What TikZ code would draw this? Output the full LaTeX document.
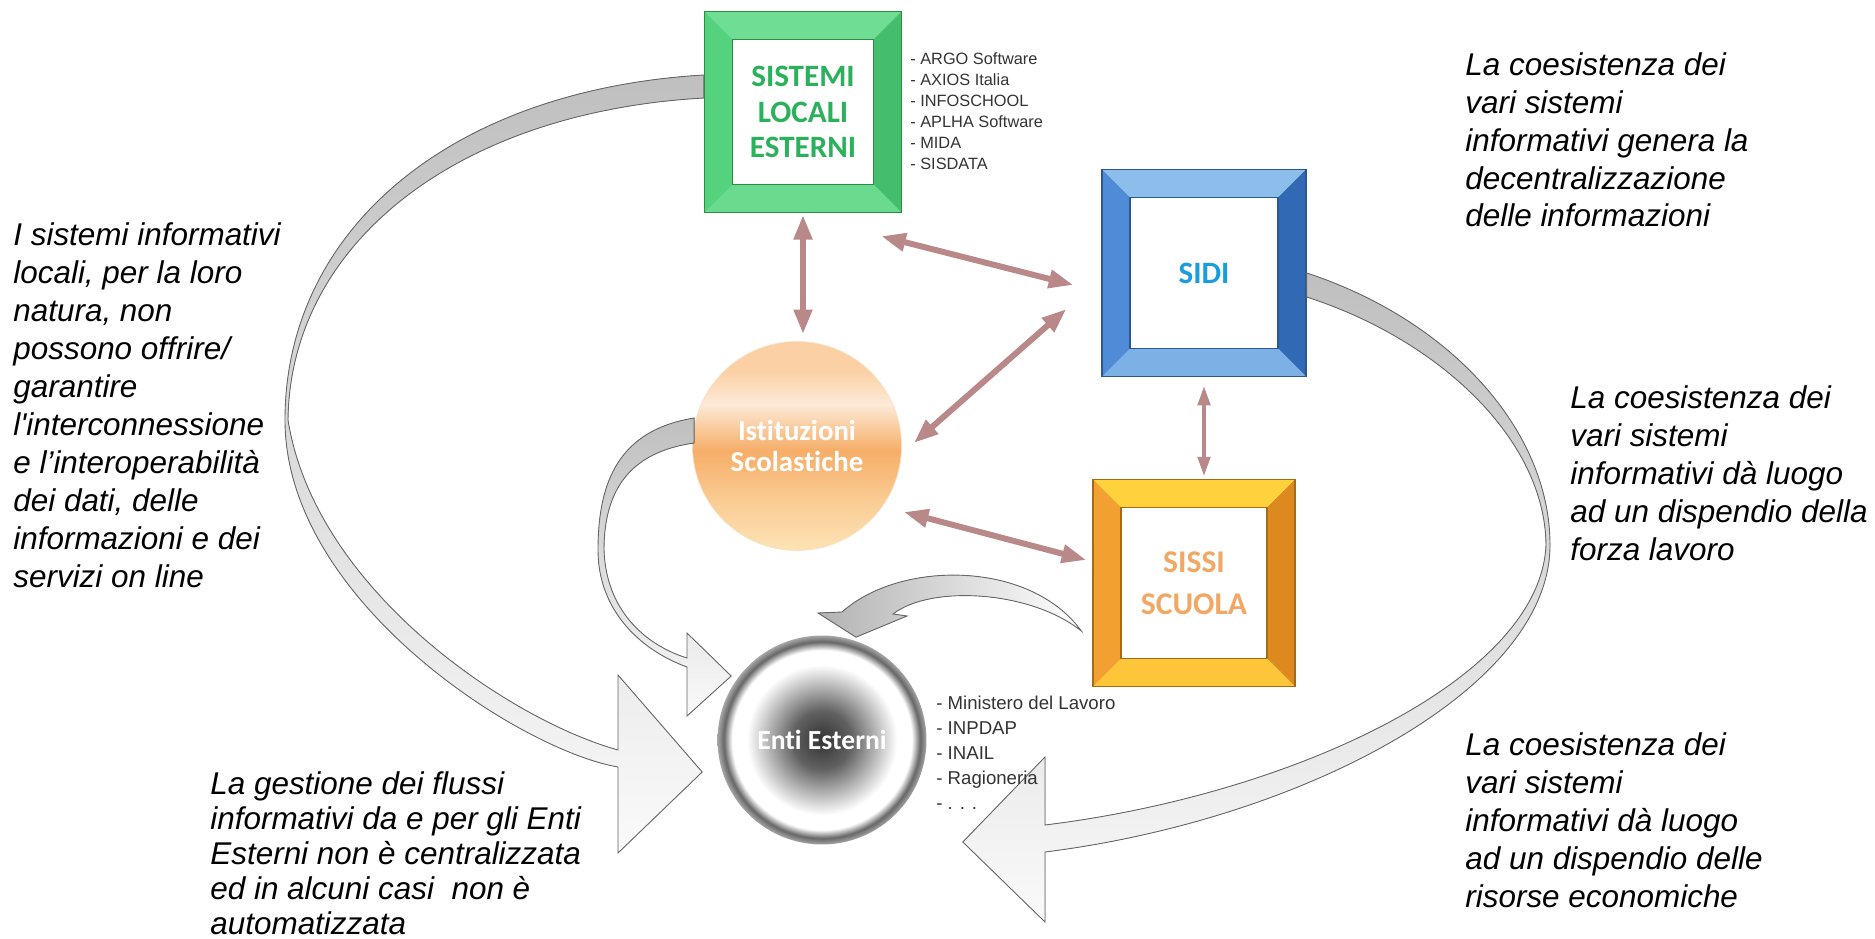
\documentclass[tikz,border=0pt]{standalone}
\usepackage{fontspec}
\setmainfont{Liberation Sans}
\newfontfamily\boxfont{Carlito}[Ligatures={NoCommon}]
\usetikzlibrary{arrows.meta,calc,positioning}

\definecolor{greenframe}{HTML}{55D27D}
\definecolor{greenlight}{HTML}{6FDD93}
\definecolor{greendark}{HTML}{44BE6C}
\definecolor{greenline}{HTML}{2E8B45}
\definecolor{greentext}{HTML}{2BB05C}
\definecolor{blueframe}{HTML}{4F8BD6}
\definecolor{bluelight}{HTML}{8DBEEB}
\definecolor{bluedark}{HTML}{3269B5}
\definecolor{blueline}{HTML}{2A5894}
\definecolor{bluetext}{HTML}{1A9DDB}
\definecolor{orangeframe}{HTML}{F3A033}
\definecolor{orangelight}{HTML}{FFD13C}
\definecolor{orangedark}{HTML}{DC8A20}
\definecolor{orangeline}{HTML}{A86A12}
\definecolor{orangetext}{HTML}{F2A865}
\definecolor{isttop}{HTML}{FAD0A4}
\definecolor{isthl}{HTML}{FDEAD8}
\definecolor{istmid}{HTML}{F6AE68}
\definecolor{istbot}{HTML}{FDE3B5}
\definecolor{linkcol}{HTML}{B98888}
\definecolor{listcol}{HTML}{333333}

\pgfdeclareverticalshading{istglow}{100bp}{color(0bp)=(istbot); color(25bp)=(istbot); color(36bp)=(istbot!60!istmid); color(49bp)=(istmid); color(60bp)=(isthl); color(68bp)=(isttop); color(75bp)=(isttop); color(100bp)=(isttop)}
\pgfdeclareradialshading{entiglow}{\pgfpoint{0bp}{0bp}}{color(0bp)=(black!80); color(7bp)=(black!62); color(18bp)=(white); color(21.5bp)=(white); color(23.5bp)=(black!60); color(25bp)=(black!35); color(50bp)=(white)}

\begin{document}
\begin{tikzpicture}[x=0.02cm,y=-0.02cm,
    frame node/.style n args={4}{rectangle, fill=#1, draw=#4, line width=0.8pt, align=center,
      path picture={
        \path (path picture bounding box.north west) coordinate (NW)
              (path picture bounding box.north east) coordinate (NE)
              (path picture bounding box.south east) coordinate (SE)
              (path picture bounding box.south west) coordinate (SW);
        \fill[#2] (NW) -- (NE) -- ($(NE)+(-28,28)$) -- ($(NW)+(28,28)$) -- cycle;
        \fill[#3] (NE) -- (SE) -- ($(SE)+(-28,-28)$) -- ($(NE)+(-28,28)$) -- cycle;
        \fill[#2!75!#1] (SW) -- (SE) -- ($(SE)+(-28,-28)$) -- ($(SW)+(28,-28)$) -- cycle;
        \filldraw[fill=white, draw=#4, line width=0.8pt] ($(NW)+(28,28)$) rectangle ($(SE)+(-28,-28)$);
      }},
    box label/.style={font=\boxfont\bfseries\fontsize{17.7}{20}\selectfont},
    round node/.style={circle, minimum size=4.18cm, inner sep=0pt, align=center, text=white,
      font=\boxfont\bfseries\fontsize{16.4}{18.2}\selectfont},
    list/.style={align=left, inner sep=0pt, anchor=base west, text=listcol},
    note/.style={align=left, inner sep=0pt, anchor=base west, font=\itshape\fontsize{17.9}{21.6}\selectfont},
    link/.style={line width=3.4pt, draw=linkcol, <->, >={Triangle[width=10pt,length=14pt]}},
    band/.style={draw=black!60, line width=0.5pt, top color=gray!50, bottom color=gray!4}]

  \useasboundingbox (0,0) rectangle (1875,939);

  \node[frame node={greenframe}{greenlight}{greendark}{greenline}, minimum width=3.94cm, minimum height=4.02cm,
        box label, text=greentext] (sle) at (803,112) {SISTEMI\\LOCALI\\ESTERNI};
  \node[frame node={blueframe}{bluelight}{bluedark}{blueline}, minimum width=4.08cm, minimum height=4.14cm,
        box label, text=bluetext] (sidi) at (1204,273) {SIDI};
  \node[frame node={orangeframe}{orangelight}{orangedark}{orangeline}, minimum width=4.04cm, minimum height=4.14cm,
        box label, font=\boxfont\bfseries\fontsize{18}{23.7}\selectfont, text=orangetext] (sissi) at (1194,583) {SISSI\\SCUOLA};
  \node[round node, shading=istglow, draw=istmid!40] (ist) at (797,446) {Istituzioni\\Scolastiche};
  \node[round node, shading=entiglow, font=\boxfont\bfseries\fontsize{15.7}{18}\selectfont] (enti) at (822,740) {Enti Esterni};

  % big arrows
  \filldraw[band] ($(sle.west)+(0,-37)$) .. controls (450,90) and (285,230) .. (285,420)
    .. controls (285,600) and (520,750) .. (618,767) -- (618,853) -- ($(enti.west)+(-15,32)$) -- (618,675) -- (618,750)
    .. controls (510,720) and (315,590) .. (288,420) .. controls (290,245) and (455,112) .. ($(sle.west)+(0,-14)$) -- cycle;
  \filldraw[band] ($(ist.west)+(2,-28)$) .. controls (620,430) and (598,480) .. (598,550)
    .. controls (598,610) and (640,650) .. (687,667) -- (687,716) -- ($(enti.west)+(14,-64)$) -- (687,633) -- (687,658)
    .. controls (645,645) and (606,610) .. (604,550) .. controls (604,490) and (630,452) .. ($(ist.west)+(2,-3)$) -- cycle;
  \filldraw[band] (sidi.east) .. controls (1450,320) and (1550,430) .. (1550,545)
    .. controls (1550,690) and (1300,820) .. (1045,852) -- (1045,922) -- ($(enti.east)+(36,102)$) -- (1045,757) -- (1045,825)
    .. controls (1290,795) and (1540,680) .. (1546,545) .. controls (1545,440) and (1440,340) .. ($(sidi.east)+(0,24)$) -- cycle;
  \filldraw[band, left color=gray!60, right color=white] ($(sissi.west)+(-11,48)$) .. controls (1030,560) and (900,560) .. (842,612)
    -- (818,613) -- ($(enti.north)+(34,2)$) -- (907,616) -- (893,614)
    .. controls (930,585) and (1030,590) .. ($(sissi.west)+(-11,48)$) -- cycle;

  % links
  \draw[link, shorten <=1pt, shorten >=4pt] (sle.south) -- (sle.south |- ist.north);
  \draw[link] ($(sle.south east)+(-21,23)$) -- ($(sidi.west)+(-28,12)$);
  \draw[link] ($(ist.east)+(12,-3)$) -- ($(sidi.west)+(-35,36)$);
  \draw[link, line width=2.2pt, >={Triangle[width=7pt,length=11pt]}, shorten <=5pt, shorten >=1.5pt] (sidi.south) -- (sidi.south |- sissi.north);
  \draw[link] ($(ist.east)+(2,66)$) -- ($(sissi.west)+(-6,-23)$);

  \node[list, font=\fontsize{9.3}{12}\selectfont] (slelist) at (910,170) {- ARGO Software\\- AXIOS Italia\\- INFOSCHOOL\\- APLHA Software\\- MIDA\\- SISDATA};
  \node[list, font=\fontsize{10.6}{14.2}\selectfont] (entilist) at (936,809) {- Ministero del Lavoro\\- INPDAP\\- INAIL\\- Ragioneria\\- . . .};

  \node[note] (left note) at (13,587) {I sistemi informativi\\locali, per la loro\\natura, non\\possono offrire/\\garantire\\l\textquotesingle interconnessione\\e l’interoperabilità\\dei dati, delle\\informazioni e dei\\servizi on line};
  \node[note, font=\itshape\fontsize{17.9}{19.9}\selectfont] (bottom note) at (210,934) {La gestione dei flussi\\informativi da e per gli Enti\\Esterni non è centralizzata\\ed in alcuni casi\ \ non è\\automatizzata};
  \node[note] (top note) at (1465,227) {La coesistenza dei\\vari sistemi\\informativi genera la\\decentralizzazione\\delle informazioni};
  \node[note] (mid note) at (1570,560) {La coesistenza dei\\vari sistemi\\informativi dà luogo\\ad un dispendio della\\forza lavoro};
  \node[note] (low note) at (1465,907) {La coesistenza dei\\vari sistemi\\informativi dà luogo\\ad un dispendio delle\\risorse economiche};
\end{tikzpicture}
\end{document}
